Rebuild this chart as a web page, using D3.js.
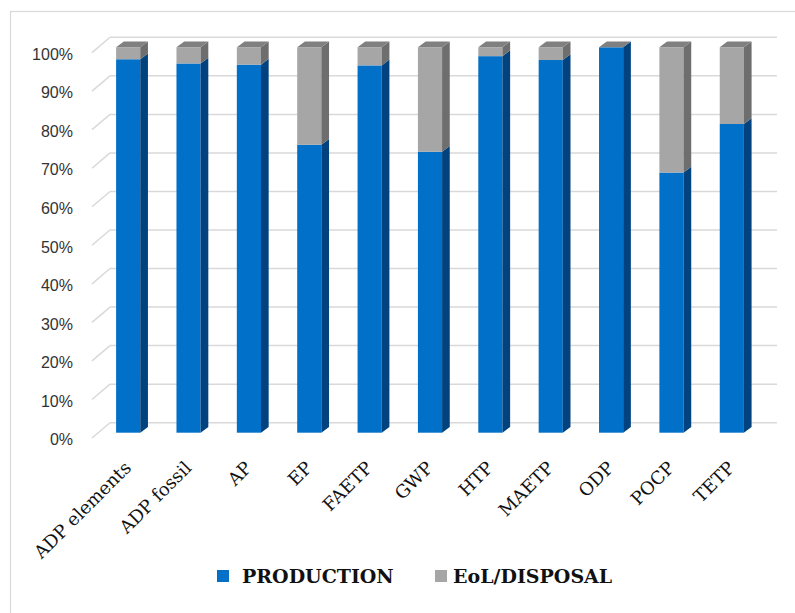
<!DOCTYPE html>
<html>
<head>
<meta charset="utf-8">
<script src="https://cdn.jsdelivr.net/npm/d3@7"></script>
<style>
  html, body { margin: 0; padding: 0; background: #fff; }
  svg { display: block; }
</style>
</head>
<body>
<svg id="chart" width="795" height="613"></svg>
<script>
const categories = ["ADP elements", "ADP fossil", "AP", "EP", "FAETP", "GWP", "HTP", "MAETP", "ODP", "POCP", "TETP"];
const production = [0.969, 0.958, 0.955, 0.747, 0.953, 0.729, 0.977, 0.967, 1.0, 0.675, 0.801];
const eolDisposal = production.map(v => 1 - v);
const seriesNames = ["PRODUCTION", "EoL/DISPOSAL"];
const yTicks = [0, 0.1, 0.2, 0.3, 0.4, 0.5, 0.6, 0.7, 0.8, 0.9, 1.0];

const svg = d3.select("#chart");

// chart border
svg.append("rect").attr("x", 10.5).attr("y", 11.5).attr("width", 800).attr("height", 620)
  .attr("fill", "none").attr("stroke", "#d9d9d9").attr("stroke-width", 1.2);

const x = d3.scaleBand().domain(categories).range([98, 762]).paddingInner(0.6).paddingOuter(0.3);
const y = d3.scaleLinear().domain([0, 1]).range([432.7, 47.3]);

const DX = 7.7, DY = 5.8; // bar depth
const WALL_DX = 18, WALL_DY = 10; // wall offset

// gridlines on back wall + floor diagonals
const grid = svg.append("g");
yTicks.forEach(t => {
  const yb = y(t) - WALL_DY;
  grid.append("line").attr("x1", 92).attr("y1", y(t) + 5.3).attr("x2", 92 + WALL_DX).attr("y2", yb)
    .attr("stroke", "#d9d9d9").attr("stroke-width", 1.5);
  grid.append("line").attr("x1", 92 + WALL_DX).attr("y1", yb).attr("x2", 777).attr("y2", yb)
    .attr("stroke", "#d9d9d9").attr("stroke-width", 1.5);
});

// y labels
const fmt = d3.format(".0%");
svg.append("g").selectAll("text").data(yTicks).join("text")
  .attr("x", 73).attr("y", d => y(d) + 7)
  .attr("text-anchor", "end").attr("dominant-baseline", "central")
  .attr("font-family", "'Liberation Sans', Arial, sans-serif").attr("font-size", 16)
  .attr("fill", "#333")
  .text(d => fmt(d));

const colors = {
  front: ["#0070c8", "#a6a6a6"],
  side: ["#02437f", "#6e6e6e"],
  top: ["#0a5aa0", "#808080"]
};

const stackData = categories.map((c, i) => ({ cat: c, PRODUCTION: production[i], "EoL/DISPOSAL": eolDisposal[i] }));
const stacked = d3.stack().keys(seriesNames)(stackData);

const bars = svg.append("g");
const bw = x.bandwidth();
stacked.forEach((layer, si) => {
  layer.forEach((d, i) => {
    const bx = x(categories[i]);
    const y0 = y(d[0]), y1 = y(d[1]);
    if (d[1] - d[0] <= 0) return;
    // front
    bars.append("rect").attr("x", bx).attr("y", y1).attr("width", bw).attr("height", y0 - y1)
      .attr("fill", colors.front[si]);
    // side
    bars.append("path").attr("d", `M${bx + bw},${y0} L${bx + bw + DX},${y0 - DY} L${bx + bw + DX},${y1 - DY} L${bx + bw},${y1} Z`)
      .attr("fill", colors.side[si]);
  });
});
// top faces (top of the stack, gray cap)
categories.forEach((c, i) => {
  const bx = x(c);
  const yt = y(1);
  bars.append("path").attr("d", `M${bx},${yt} L${bx + DX},${yt - DY} L${bx + bw + DX},${yt - DY} L${bx + bw},${yt} Z`)
    .attr("fill", colors.top[1]);
});

// x labels
svg.append("g").selectAll("text").data(categories).join("text")
  .attr("transform", d => `translate(${x(d) + bw / 2 + 4},469) rotate(-45)`)
  .attr("text-anchor", "end")
  .attr("font-family", "'DejaVu Serif', serif").attr("font-size", 18)
  .attr("fill", "#111")
  .text(d => d);

// legend
const legend = svg.append("g");
const legendItems = [
  { name: seriesNames[0], color: colors.front[0], sx: 217, tx: 242 },
  { name: seriesNames[1], color: colors.front[1], sx: 435, tx: 453 }
];
legendItems.forEach(it => {
  legend.append("rect").attr("x", it.sx).attr("y", 570).attr("width", 12).attr("height", 12).attr("fill", it.color);
  legend.append("text").attr("x", it.tx).attr("y", 582.5)
    .attr("font-family", "'DejaVu Serif', serif").attr("font-weight", "bold").attr("font-size", 19)
    .attr("fill", "#111").text(it.name);
});
</script>
</body>
</html>
